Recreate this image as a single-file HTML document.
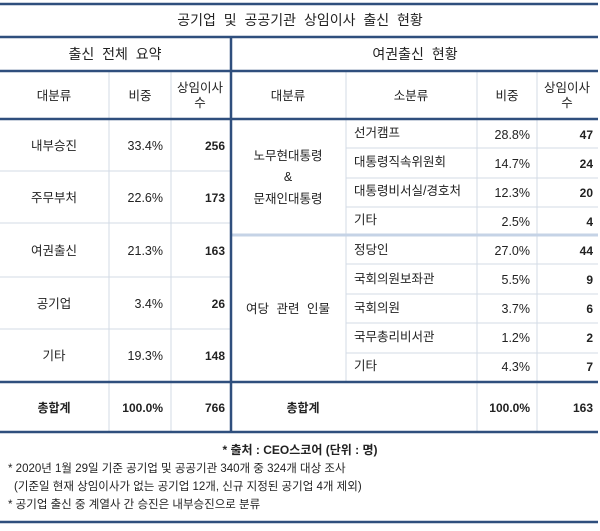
<!DOCTYPE html>
<html><head><meta charset="utf-8"><style>
html,body{margin:0;padding:0;background:#fff;}
svg text{font-family:"Liberation Sans","Noto Sans CJK KR",sans-serif;font-size:12.5px;fill:#222;}
.b{font-weight:bold;font-size:12px;}
.ws{word-spacing:4px;}
</style></head><body>
<svg width="600" height="526" viewBox="0 0 600 526" xmlns="http://www.w3.org/2000/svg">
<rect width="600" height="526" fill="#fff"/>
<g stroke="#d3dbe6" stroke-width="1">
<line x1="109" y1="71" x2="109" y2="432"/>
<line x1="171" y1="71" x2="171" y2="432"/>
<line x1="346" y1="71" x2="346" y2="382"/>
<line x1="477" y1="71" x2="477" y2="432"/>
<line x1="537" y1="71" x2="537" y2="432"/>
<line x1="0" y1="171" x2="231" y2="171"/>
<line x1="0" y1="223" x2="231" y2="223"/>
<line x1="0" y1="277" x2="231" y2="277"/>
<line x1="0" y1="329" x2="231" y2="329"/>
<line x1="346" y1="148" x2="598" y2="148"/>
<line x1="346" y1="178" x2="598" y2="178"/>
<line x1="346" y1="207" x2="598" y2="207"/>
<line x1="346" y1="264" x2="598" y2="264"/>
<line x1="346" y1="294" x2="598" y2="294"/>
<line x1="346" y1="323" x2="598" y2="323"/>
<line x1="346" y1="353" x2="598" y2="353"/>
</g>
<line x1="231" y1="235" x2="598" y2="235" stroke="#c5d3e6" stroke-width="3"/>
<g stroke="#2f4f7d" stroke-width="2.5">
<line x1="0" y1="4" x2="598" y2="4"/>
<line x1="0" y1="37" x2="598" y2="37"/>
<line x1="0" y1="71" x2="598" y2="71"/>
<line x1="0" y1="119" x2="598" y2="119"/>
<line x1="0" y1="382" x2="598" y2="382"/>
<line x1="0" y1="432" x2="598" y2="432"/>
<line x1="0" y1="522" x2="598" y2="522"/>
<line x1="231" y1="37" x2="231" y2="432"/>
</g>
<text x="300" y="25" text-anchor="middle" class="ws" style="font-size:14px">공기업 및 공공기관 상임이사 출신 현황</text>
<text x="115" y="59" text-anchor="middle" class="ws" style="font-size:14px">출신 전체 요약</text>
<text x="415" y="59" text-anchor="middle" class="ws" style="font-size:14px">여권출신 현황</text>
<g text-anchor="middle">
<text x="54" y="100">대분류</text>
<text x="140" y="100">비중</text>
<text x="200" y="92">상임이사</text><text x="200" y="107">수</text>
<text x="288" y="100">대분류</text>
<text x="411" y="100">소분류</text>
<text x="507" y="100">비중</text>
<text x="567" y="92">상임이사</text><text x="567" y="107">수</text>
<text x="54" y="150">내부승진</text>
<text x="54" y="202">주무부처</text>
<text x="54" y="255">여권출신</text>
<text x="54" y="308">공기업</text>
<text x="54" y="360">기타</text>
<text x="288" y="160">노무현대통령</text>
<text x="288" y="181">&amp;</text>
<text x="288" y="203">문재인대통령</text>
<text x="288" y="313" class="ws">여당 관련 인물</text>
<text x="54" y="412" class="b">총합계</text>
<text x="303" y="412" class="b">총합계</text>
</g>
<g text-anchor="end">
<text x="163" y="150">33.4%</text><text x="225" y="150" class="b">256</text>
<text x="163" y="202">22.6%</text><text x="225" y="202" class="b">173</text>
<text x="163" y="255">21.3%</text><text x="225" y="255" class="b">163</text>
<text x="163" y="308">3.4%</text><text x="225" y="308" class="b">26</text>
<text x="163" y="360">19.3%</text><text x="225" y="360" class="b">148</text>
<text x="163" y="412" class="b">100.0%</text><text x="225" y="412" class="b">766</text>
<text x="530" y="139">28.8%</text><text x="593" y="139" class="b">47</text>
<text x="530" y="168">14.7%</text><text x="593" y="168" class="b">24</text>
<text x="530" y="197">12.3%</text><text x="593" y="197" class="b">20</text>
<text x="530" y="226">2.5%</text><text x="593" y="226" class="b">4</text>
<text x="530" y="255">27.0%</text><text x="593" y="255" class="b">44</text>
<text x="530" y="284">5.5%</text><text x="593" y="284" class="b">9</text>
<text x="530" y="313">3.7%</text><text x="593" y="313" class="b">6</text>
<text x="530" y="342">1.2%</text><text x="593" y="342" class="b">2</text>
<text x="530" y="371">4.3%</text><text x="593" y="371" class="b">7</text>
<text x="530" y="412" class="b">100.0%</text><text x="593" y="412" class="b">163</text>
</g>
<g>
<text x="354" y="137">선거캠프</text>
<text x="354" y="166">대통령직속위원회</text>
<text x="354" y="195">대통령비서실/경호처</text>
<text x="354" y="224">기타</text>
<text x="354" y="254">정당인</text>
<text x="354" y="283">국회의원보좌관</text>
<text x="354" y="312">국회의원</text>
<text x="354" y="341">국무총리비서관</text>
<text x="354" y="370">기타</text>
</g>
<text x="300" y="454" text-anchor="middle" class="b">* 출처 : CEO스코어 (단위 : 명)</text>
<text x="8" y="472" style="font-size:11.5px">* 2020년 1월 29일 기준 공기업 및 공공기관 340개 중 324개 대상 조사</text>
<text x="14" y="490" style="font-size:11.5px">(기준일 현재 상임이사가 없는 공기업 12개, 신규 지정된 공기업 4개 제외)</text>
<text x="8" y="508" style="font-size:11.5px">* 공기업 출신 중 계열사 간 승진은 내부승진으로 분류</text>
</svg>
</body></html>
